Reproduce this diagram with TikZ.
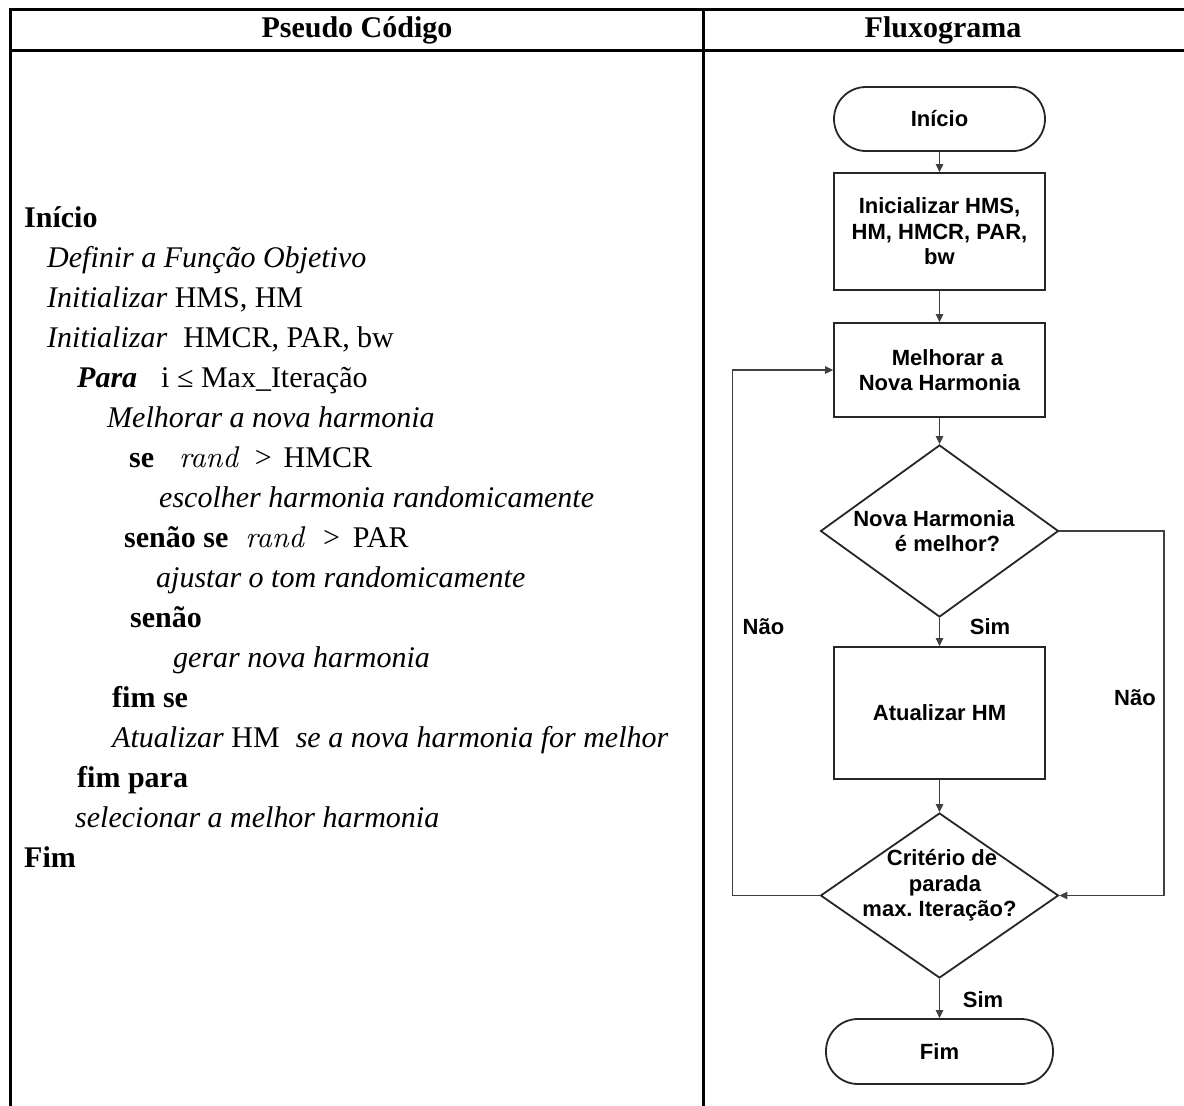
\documentclass[tikz,border=0pt]{standalone}
\usepackage{fontspec}
\setmainfont{Liberation Serif}
\newfontfamily\flowfont{Liberation Sans}
\newfontfamily\randfont{lmroman10-italic.otf}
\usetikzlibrary{shapes.geometric,arrows.meta}
\frenchspacing

% one centred line of a decision label, moved sideways by #1
\newcommand\shiftline[2]{\hspace*{#1}\makebox[0pt]{#2}\hspace*{-#1}}
% decision label of zero size, raised by #1, so the diamond keeps its given size
\newcommand\decisiontext[2]{\raisebox{#1}[0pt][0pt]{\begin{tabular}{@{}c@{}}#2\end{tabular}}}

\begin{document}
\begin{tikzpicture}[x=1pt,y=-1pt,
  rule/.style={line width=3pt},
  hdr/.style={anchor=base, inner sep=0, font=\fontsize{30}{36}\selectfont\bfseries},
  code/.style={anchor=base west, inner sep=0, font=\fontsize{30}{40}\selectfont},
  flow/.style={draw=black!85, line width=1.8pt, inner sep=0, align=center,
    font=\flowfont\bfseries\fontsize{22}{25.5}\selectfont},
  procbox/.style={flow, rectangle, minimum width=211pt},
  termbox/.style={flow, rectangle, rounded corners=32pt, minimum height=64pt},
  decbox/.style={flow, diamond, minimum width=238pt},
  arr/.style={draw=black!75, line width=1.3pt, -{Triangle[length=8pt,width=7.5pt]}},
  lbl/.style={inner sep=0, font=\flowfont\bfseries\fontsize{22}{25.5}\selectfont}]

\useasboundingbox (0,0) rectangle (1184,1106);

% table frame
\draw[rule] (1184,9) -- (10.5,9) -- (10.5,1106);
\draw[rule] (10.5,50) -- (1184,50);
\draw[rule] (703,9) -- (703,1106);

% column headers
\node[hdr] (hcode) at (357,37) {Pseudo Código};
\node[hdr] (hflow) at (943,37) {Fluxograma};

% pseudo code
\node[code] (c1)  at (24,227)  {\textbf{Início}};
\node[code] (c2)  at (47,267)  {\textit{Definir a Função Objetivo}};
\node[code] (c3)  at (47,307)  {\textit{Initializar} HMS, HM};
\node[code] (c4)  at (47,347)  {\textit{Initializar}\hspace{16pt}HMCR, PAR, bw};
\node[code] (c5)  at (77,387)  {\textbf{\textit{Para}}\hspace{24pt}i ≤ Max\_Iteração};
\node[code] (c6)  at (107,427) {\textit{Melhorar a nova harmonia}};
\node[code] (c7)  at (129,467) {\textbf{se}\hspace{25pt}{\randfont rand}\hspace{17pt}>\hspace{12pt}HMCR};
\node[code] (c8)  at (159,507) {\textit{escolher harmonia randomicamente}};
\node[code] (c9)  at (124,547) {\textbf{senão se}\hspace{17pt}{\randfont rand}\hspace{19pt}>\hspace{13pt}PAR};
\node[code] (c10) at (156,587) {\textit{ajustar o tom randomicamente}};
\node[code] (c11) at (130,627) {\textbf{senão}};
\node[code] (c12) at (173,667) {\textit{gerar nova harmonia}};
\node[code] (c13) at (112,707) {\textbf{fim se}};
\node[code] (c14) at (112,747) {\textit{Atualizar} HM\hspace{16pt}\textit{se a nova harmonia for melhor}};
\node[code] (c15) at (77,787)  {\textbf{fim para}};
\node[code] (c16) at (75,827)  {\textit{selecionar a melhor harmonia}};
\node[code] (c17) at (24,867)  {\textbf{Fim}};

% flowchart
\node[termbox, minimum width=211pt] (start) at (939.5,119) {Início};
\node[procbox, minimum height=117pt] (init) at (939.5,231.5) {Inicializar HMS,\\HM, HMCR, PAR,\\bw};
\node[procbox, minimum height=94pt] (melh) at (939.5,370) {\hspace*{16pt}Melhorar a\\Nova Harmonia};
\node[decbox, minimum height=172pt] (d1) at (939.5,531)
  {\decisiontext{-8pt}{\shiftline{-5.5pt}{Nova Harmonia}\\\shiftline{8pt}{é melhor?}}};
\node[procbox, minimum height=132pt] (atual) at (939.5,713) {Atualizar HM};
\node[decbox, minimum height=165pt] (d2) at (939.5,895.5)
  {\decisiontext{4pt}{\shiftline{2.5pt}{Critério de}\\\shiftline{5.5pt}{parada}\\\shiftline{0pt}{max. Iteração?}}};
\node[termbox, minimum width=227pt, minimum height=65pt] (fim) at (939.5,1051.5) {Fim};

\draw[arr] (start) -- (init);
\draw[arr] (init) -- (melh);
\draw[arr] (melh) -- (d1);
\draw[arr] (d1) -- (atual);
\draw[arr] (atual) -- (d2);
\draw[arr] (d2) -- (fim);
\draw[arr] (d2.west) -- ++(-87,0) |- (melh.west);
\draw[arr] (d1.east) -- ++(104.5,0) |- (d2.east);

\node[lbl] (simA) at (990,627)   {Sim};
\node[lbl] (naoL) at (763.5,627) {Não};
\node[lbl] (naoR) at (1135,698)  {Não};
\node[lbl] (simB) at (983,1000)  {Sim};
\end{tikzpicture}
\end{document}
